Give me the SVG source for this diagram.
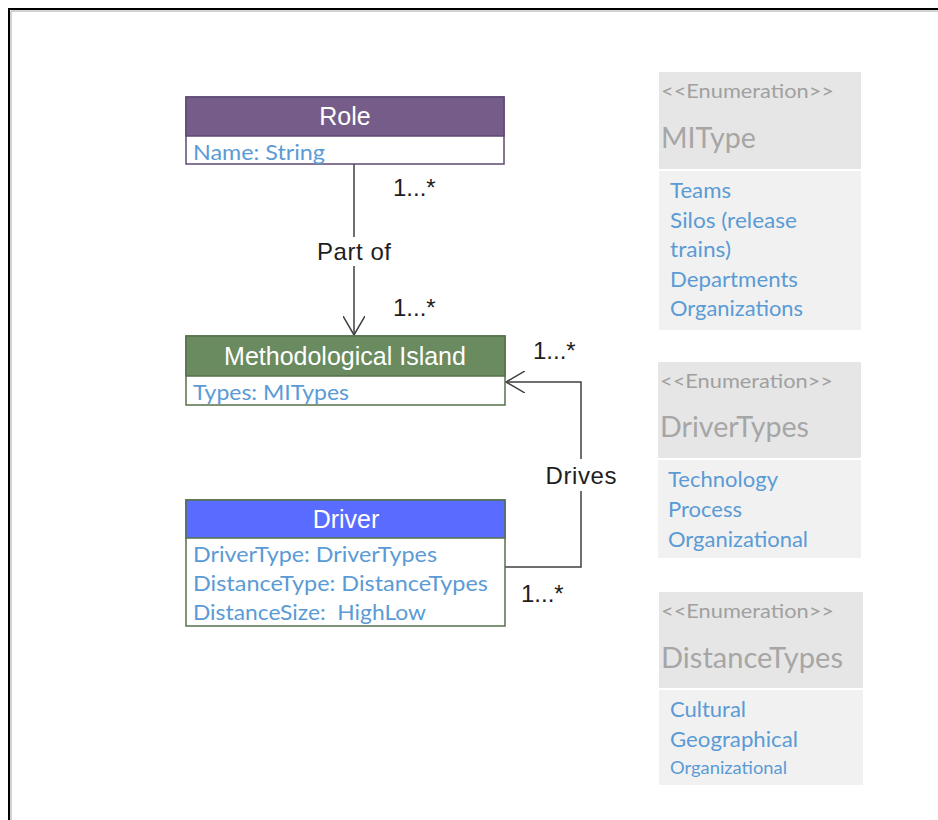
<svg xmlns="http://www.w3.org/2000/svg" width="938" height="820" viewBox="0 0 938 820">
  <style>
    .title { font-family: "Liberation Sans", Arial, sans-serif; font-size: 25px; fill: #ffffff; text-anchor: middle; }
    .attr { font-family: Lato, "Open Sans", sans-serif; font-size: 21px; fill: #5b9bd5; }
    .lbl { font-family: "Liberation Sans", Arial, sans-serif; font-size: 24px; fill: #1e1e1e; }
    .stereo { font-family: Lato, "Open Sans", sans-serif; font-size: 20px; fill: #a0a0a0; }
    .ename { font-family: Lato, "Open Sans", sans-serif; font-size: 28px; fill: #a6a6a6; }
    .item { font-family: Lato, "Open Sans", sans-serif; font-size: 22px; fill: #5b9bd5; }
    .ehead { fill: #e6e6e6; }
    .ebody { fill: #f1f1f1; }
    .edge { fill: none; stroke: #404040; stroke-width: 1.5; }
  </style>
  <defs>
    <marker id="open" viewBox="0 0 20 22" refX="19" refY="11" markerWidth="20" markerHeight="22" markerUnits="userSpaceOnUse" orient="auto">
      <path d="M0,0 L19,11 L0,22" fill="none" stroke="#404040" stroke-width="1.5"/>
    </marker>
  </defs>

  <rect width="938" height="820" fill="#ffffff"/>
  <!-- outer frame -->
  <path d="M9,820 V9 H938" fill="none" stroke="#000000" stroke-width="2"/>
  <path d="M11,820 V11 H938" fill="none" stroke="#a8a8a8" stroke-width="1"/>

  <!-- connectors -->
  <g id="connectors">
    <path class="edge" d="M354,164 V335" marker-end="url(#open)"/>
    <rect x="313" y="237" width="82" height="29" fill="#ffffff"/>
    <text class="lbl" x="354" y="260" text-anchor="middle" textLength="74">Part of</text>
    <text class="lbl" x="393" y="196">1...*</text>
    <text class="lbl" x="393" y="316">1...*</text>

    <path class="edge" d="M505,567 H581 V382 H506" marker-end="url(#open)"/>
    <rect x="543" y="459" width="76" height="32" fill="#ffffff"/>
    <text class="lbl" x="581" y="484" text-anchor="middle" textLength="71">Drives</text>
    <text class="lbl" x="533" y="359">1...*</text>
    <text class="lbl" x="521" y="602">1...*</text>
  </g>

  <!-- class: Role -->
  <g id="role">
    <rect x="186" y="97" width="318" height="67" fill="#ffffff" stroke="#5e4a72" stroke-width="1.5"/>
    <rect x="186" y="97" width="318" height="39" fill="#765d89" stroke="#5e4a72" stroke-width="1.5"/>
    <text class="title" x="345" y="125">Role</text>
    <text class="attr" x="193" y="160" textLength="132" lengthAdjust="spacingAndGlyphs">Name: String</text>
  </g>

  <!-- class: Methodological Island -->
  <g id="methodological-island">
    <rect x="186" y="336" width="319" height="69" fill="#ffffff" stroke="#55704b" stroke-width="1.5"/>
    <rect x="186" y="336" width="319" height="40" fill="#6a8a5f" stroke="#55704b" stroke-width="1.5"/>
    <text class="title" x="345" y="365">Methodological Island</text>
    <text class="attr" x="193" y="400" textLength="156" lengthAdjust="spacingAndGlyphs">Types: MITypes</text>
  </g>

  <!-- class: Driver -->
  <g id="driver">
    <rect x="186" y="500" width="319" height="126" fill="#ffffff" stroke="#55704b" stroke-width="1.5"/>
    <rect x="186" y="500" width="319" height="38" fill="#5a6bff" stroke="#55704b" stroke-width="1.5"/>
    <text class="title" x="346" y="528">Driver</text>
    <text class="attr" x="193" y="562" textLength="244" lengthAdjust="spacingAndGlyphs">DriverType: DriverTypes</text>
    <text class="attr" x="193" y="591" textLength="295" lengthAdjust="spacingAndGlyphs">DistanceType: DistanceTypes</text>
    <text class="attr" x="193" y="620" textLength="233" lengthAdjust="spacingAndGlyphs" xml:space="preserve">DistanceSize:  HighLow</text>
  </g>

  <!-- enumeration: MIType -->
  <g id="enum-mitype">
    <rect class="ehead" x="659" y="72" width="202" height="97"/>
    <rect class="ebody" x="659" y="171" width="202" height="159"/>
    <text class="stereo" x="661" y="98" textLength="173" lengthAdjust="spacingAndGlyphs">&lt;&lt;Enumeration&gt;&gt;</text>
    <text class="ename" x="661" y="148" textLength="95" lengthAdjust="spacingAndGlyphs">MIType</text>
    <text class="item" x="670" y="198" textLength="61" lengthAdjust="spacingAndGlyphs">Teams</text>
    <text class="item" x="670" y="228" textLength="127" lengthAdjust="spacingAndGlyphs">Silos (release</text>
    <text class="item" x="670" y="257" textLength="61" lengthAdjust="spacingAndGlyphs">trains)</text>
    <text class="item" x="670" y="287" textLength="128" lengthAdjust="spacingAndGlyphs">Departments</text>
    <text class="item" x="670" y="316" textLength="133" lengthAdjust="spacingAndGlyphs">Organizations</text>
  </g>

  <!-- enumeration: DriverTypes -->
  <g id="enum-drivertypes">
    <rect class="ehead" x="658" y="362" width="203" height="96"/>
    <rect class="ebody" x="658" y="460" width="203" height="98"/>
    <text class="stereo" x="660" y="388" textLength="173" lengthAdjust="spacingAndGlyphs">&lt;&lt;Enumeration&gt;&gt;</text>
    <text class="ename" x="660" y="437" textLength="149" lengthAdjust="spacingAndGlyphs">DriverTypes</text>
    <text class="item" x="668" y="487" textLength="110" lengthAdjust="spacingAndGlyphs">Technology</text>
    <text class="item" x="668" y="517" textLength="74" lengthAdjust="spacingAndGlyphs">Process</text>
    <text class="item" x="668" y="547" textLength="140" lengthAdjust="spacingAndGlyphs">Organizational</text>
  </g>

  <!-- enumeration: DistanceTypes -->
  <g id="enum-distancetypes">
    <rect class="ehead" x="659" y="592" width="204" height="96"/>
    <rect class="ebody" x="659" y="690" width="204" height="95"/>
    <text class="stereo" x="661" y="618" textLength="173" lengthAdjust="spacingAndGlyphs">&lt;&lt;Enumeration&gt;&gt;</text>
    <text class="ename" x="661" y="668" textLength="182" lengthAdjust="spacingAndGlyphs">DistanceTypes</text>
    <text class="item" x="670" y="717" textLength="76" lengthAdjust="spacingAndGlyphs">Cultural</text>
    <text class="item" x="670" y="747" textLength="128" lengthAdjust="spacingAndGlyphs">Geographical</text>
    <text class="item" x="670" y="774" style="font-size:18px" textLength="117" lengthAdjust="spacingAndGlyphs">Organizational</text>
  </g>
</svg>
